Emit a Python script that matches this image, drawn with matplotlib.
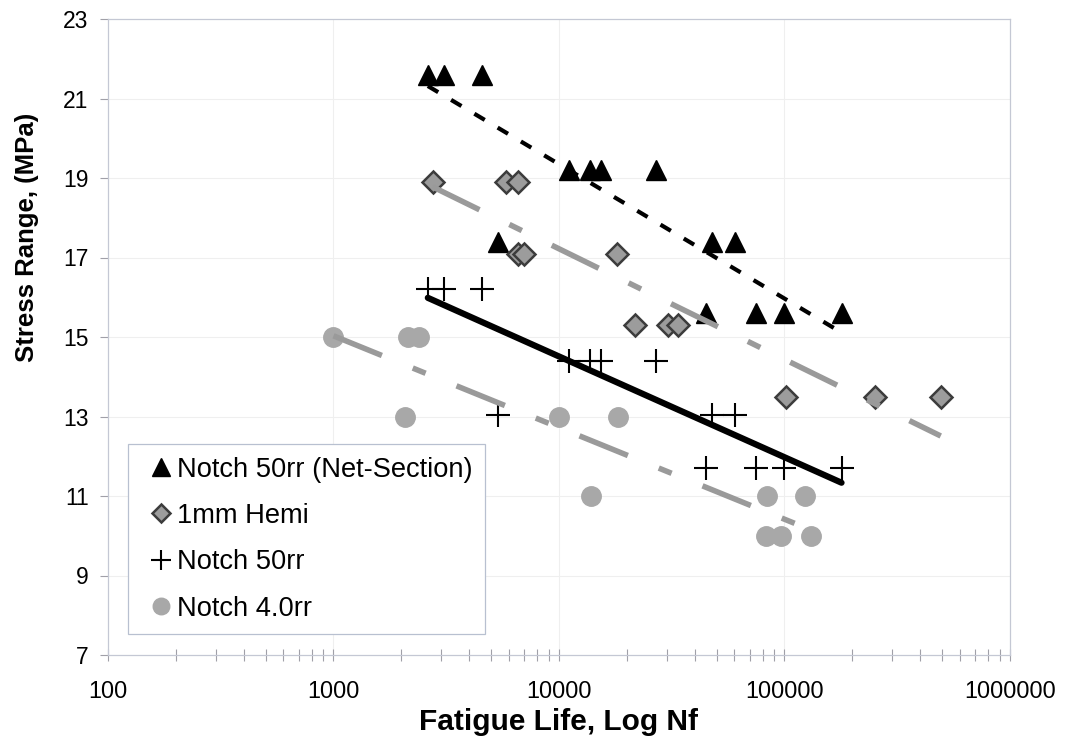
import matplotlib.pyplot as plt
import numpy as np
from matplotlib.ticker import FixedLocator, LogLocator, NullFormatter

plt.rcParams['font.family'] = ['Liberation Sans', 'DejaVu Sans']

# cycles to failure for the 50rr notched specimens (same specimens, net and gross section)
notch50_N = [2620, 3080, 4550,
             11100, 13700, 15400, 27000,
             5360, 47900, 60600,
             45000, 75100, 100000, 179000]
net_section_S = [21.6, 21.6, 21.6,
                 19.2, 19.2, 19.2, 19.2,
                 17.4, 17.4, 17.4,
                 15.6, 15.6, 15.6, 15.6]
notch50_S = [16.2, 16.2, 16.2,
             14.4, 14.4, 14.4, 14.4,
             13.05, 13.05, 13.05,
             11.7, 11.7, 11.7, 11.7]

hemi_N = [2750, 5800, 6570, 6570, 6990, 18100, 21800, 30500, 33800, 102000, 253000, 493000]
hemi_S = [18.9, 18.9, 18.9, 17.1, 17.1, 17.1, 15.3, 15.3, 15.3, 13.5, 13.5, 13.5]

notch4_N = [1000, 2150, 2390, 2070, 10000, 18300, 13900, 84000, 122700, 82400, 96000, 130600]
notch4_S = [15, 15, 15, 13, 13, 13, 11, 11, 11, 10, 10, 10]

y_ticks = [7, 9, 11, 13, 15, 17, 19, 21, 23]
x_ticks = [100, 1000, 10000, 100000, 1000000]
x_ticklabels = ['100', '1000', '10000', '100000', '1000000']


def trend(ax, n, s, **kw):
    # logarithmic trendline: S = a + b*log10(N), drawn over the data range
    b, a = np.polyfit(np.log10(n), s, 1)
    xx = np.array([min(n), max(n)], dtype=float)
    ax.plot(xx, a + b * np.log10(xx), zorder=4, **kw)


fig = plt.figure(figsize=(10.65, 7.47), dpi=100)
ax = fig.add_axes([108/1065, 1 - 655/747, 902/1065, 636/747])
ax.set_xscale('log')
ax.set_xlim(100, 1e6)
ax.set_ylim(7, 23)

grey_line = '#9a9a9a'
ax.plot(notch50_N, net_section_S, '^', color='black', ms=14.5, mec='black',
        ls='none', label='Notch 50rr (Net-Section)', zorder=3)
ax.plot(hemi_N, hemi_S, 'D', color='#9c9c9c', ms=11, mec='#3c3c3c', mew=1.8,
        ls='none', label='1mm Hemi', zorder=3)
ax.plot(notch50_N, notch50_S, '+', color='black', ms=17, mew=1.5,
        ls='none', label='Notch 50rr', zorder=3)
ax.plot(notch4_N, notch4_S, 'o', color='#a8a8a8', ms=14, mec='#a8a8a8',
        ls='none', label='Notch 4.0rr', zorder=3)

trend(ax, notch50_N, net_section_S, color='black', lw=3, ls=(0, (2.9, 3.6)))
trend(ax, hemi_N, hemi_S, color=grey_line, lw=4, ls=(0, (9.4, 6.0, 2.5, 6.0)))
trend(ax, notch50_N, notch50_S, color='black', lw=4.5, solid_capstyle='round')
trend(ax, notch4_N, notch4_S, color=grey_line, lw=4, ls=(0, (9.4, 6.0, 2.5, 6.0)))

# axes cosmetics
ax.yaxis.set_major_locator(FixedLocator(y_ticks))
ax.xaxis.set_major_locator(FixedLocator(x_ticks))
ax.set_xticklabels(x_ticklabels)
ax.xaxis.set_minor_locator(LogLocator(base=10, subs=np.arange(2, 10)))
ax.xaxis.set_minor_formatter(NullFormatter())
ax.tick_params(axis='y', direction='out', length=6, width=0.8, color='#a0a0a8',
               labelsize=16.5, pad=8)
ax.tick_params(axis='x', which='both', direction='inout', length=8, width=0.8,
               color='#a0a0a8', labelsize=16.8, pad=14)
for sp in ax.spines.values():
    sp.set_color('#c4c8d4')
    sp.set_linewidth(0.9)

for yv in y_ticks[1:-1]:
    ax.axhline(yv, color='#efefef', lw=0.8, zorder=0)
for xv in x_ticks[1:-1]:
    ax.axvline(xv, color='#efefef', lw=0.8, zorder=0)

ax.set_xlabel('Fatigue Life, Log Nf', fontsize=21.5, fontweight='bold')
ax.set_ylabel('Stress Range, (MPa)', fontsize=18.5, fontweight='bold')
ax.xaxis.set_label_coords(0.499, -0.084)
ax.yaxis.set_label_coords(-0.077, 0.656)

leg = ax.legend(loc='lower left', bbox_to_anchor=(0.022, 0.033), borderaxespad=0,
                fontsize=19.6, frameon=True, fancybox=False, framealpha=1,
                edgecolor='#b8c0d0', handlelength=1.5, handletextpad=-0.14,
                borderpad=0.45, labelspacing=0.75, markerscale=0.85)
leg.get_frame().set_linewidth(0.9)

fig.savefig('out.png', dpi=100)
